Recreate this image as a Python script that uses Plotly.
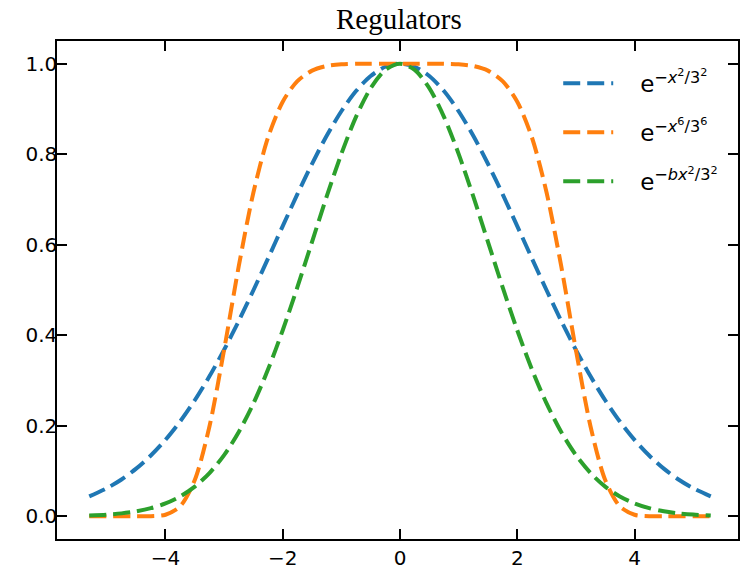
import plotly.graph_objects as go

# x sample positions
x_vals = [-5.3, -5.0, -4.75, -4.5, -4.25, -4.0, -3.75, -3.5, -3.25, -3.0, -2.75, -2.5,
          -2.25, -2.0, -1.75, -1.5, -1.25, -1.0, -0.75, -0.5, -0.25, 0.0,
          0.25, 0.5, 0.75, 1.0, 1.25, 1.5, 1.75, 2.0, 2.25, 2.5, 2.75, 3.0,
          3.25, 3.5, 3.75, 4.0, 4.25, 4.5, 4.75, 5.0, 5.3]

blue_half = [0.0441, 0.0622, 0.0815, 0.1054, 0.1344, 0.1690, 0.2096, 0.2564, 0.3093, 0.3679,
             0.4316, 0.4994, 0.5698, 0.6412, 0.7116, 0.7788, 0.8406, 0.8948, 0.9394, 0.9726,
             0.9931, 1.0]
orange_half = [0.0, 0.0, 0.0, 0.00001, 0.0003, 0.0036, 0.0220, 0.0803, 0.1986, 0.3679,
               0.5525, 0.7154, 0.8370, 0.9160, 0.9614, 0.9845, 0.9948, 0.9986, 0.9998, 1.0,
               1.0, 1.0]
green_half = [0.0019, 0.0039, 0.0066, 0.0111, 0.0181, 0.0286, 0.0439, 0.0657, 0.0956, 0.1353,
              0.1863, 0.2494, 0.3247, 0.4111, 0.5063, 0.6065, 0.7066, 0.8007, 0.8825, 0.9460,
              0.9862, 1.0]

blue_vals = blue_half + blue_half[-2::-1]
orange_vals = orange_half + orange_half[-2::-1]
green_vals = green_half + green_half[-2::-1]

pad = "\u00a0\u00a0\u00a0"
series_names = [pad + "e<sup>−<i>x</i><sup>2</sup>/3<sup>2</sup></sup>",
                pad + "e<sup>−<i>x</i><sup>6</sup>/3<sup>6</sup></sup>",
                pad + "e<sup>−<i>bx</i><sup>2</sup>/3<sup>2</sup></sup>"]
series_colors = ["#1f77b4", "#ff7f0e", "#2ca02c"]

x_tick_vals = [-4, -2, 0, 2, 4]
x_tick_text = ["−4", "−2", "0", "2", "4"]
y_tick_vals = [0.0, 0.2, 0.4, 0.6, 0.8, 1.0]
y_tick_text = ["0.0", "0.2", "0.4", "0.6", "0.8", "1.0"]

fig = go.Figure()
for name, ys, col in zip(series_names, [blue_vals, orange_vals, green_vals], series_colors):
    fig.add_trace(go.Scatter(
        x=x_vals, y=ys, mode="lines", name=name, legendgroup=name,
        line=dict(color=col, width=4, dash="17px,7px", shape="spline", smoothing=0.8),
    ))

axis_common = dict(
    showline=True, linecolor="black", linewidth=1.5, mirror="ticks",
    ticks="inside", ticklen=10, tickwidth=1.5, tickcolor="black",
    showgrid=False, zeroline=False,
    tickfont=dict(family="DejaVu Sans", size=20, color="black"),
)

fig.update_layout(
    width=740, height=570,
    margin=dict(l=57, r=0, t=41, b=27),
    paper_bgcolor="white", plot_bgcolor="white",
    title=dict(text="Regulators", x=0.502, xref="paper", xanchor="center",
               y=1 - 19 / 570, yref="container", yanchor="middle",
               font=dict(family="Liberation Serif", size=29, color="black")),
    xaxis=dict(range=[-5.85, 5.765], tickvals=x_tick_vals, ticktext=x_tick_text, **axis_common),
    yaxis=dict(range=[-0.05, 1.05], tickvals=y_tick_vals, ticktext=y_tick_text,
               ticklabelstandoff=-6, **axis_common),
    legend=dict(x=0.736, y=0.958, xanchor="left", yanchor="top",
                bgcolor="rgba(0,0,0,0)", borderwidth=0,
                font=dict(family="DejaVu Sans", size=23, color="black"),
                tracegroupgap=16, itemwidth=50),
    showlegend=True,
)

fig.write_html("out.html")
